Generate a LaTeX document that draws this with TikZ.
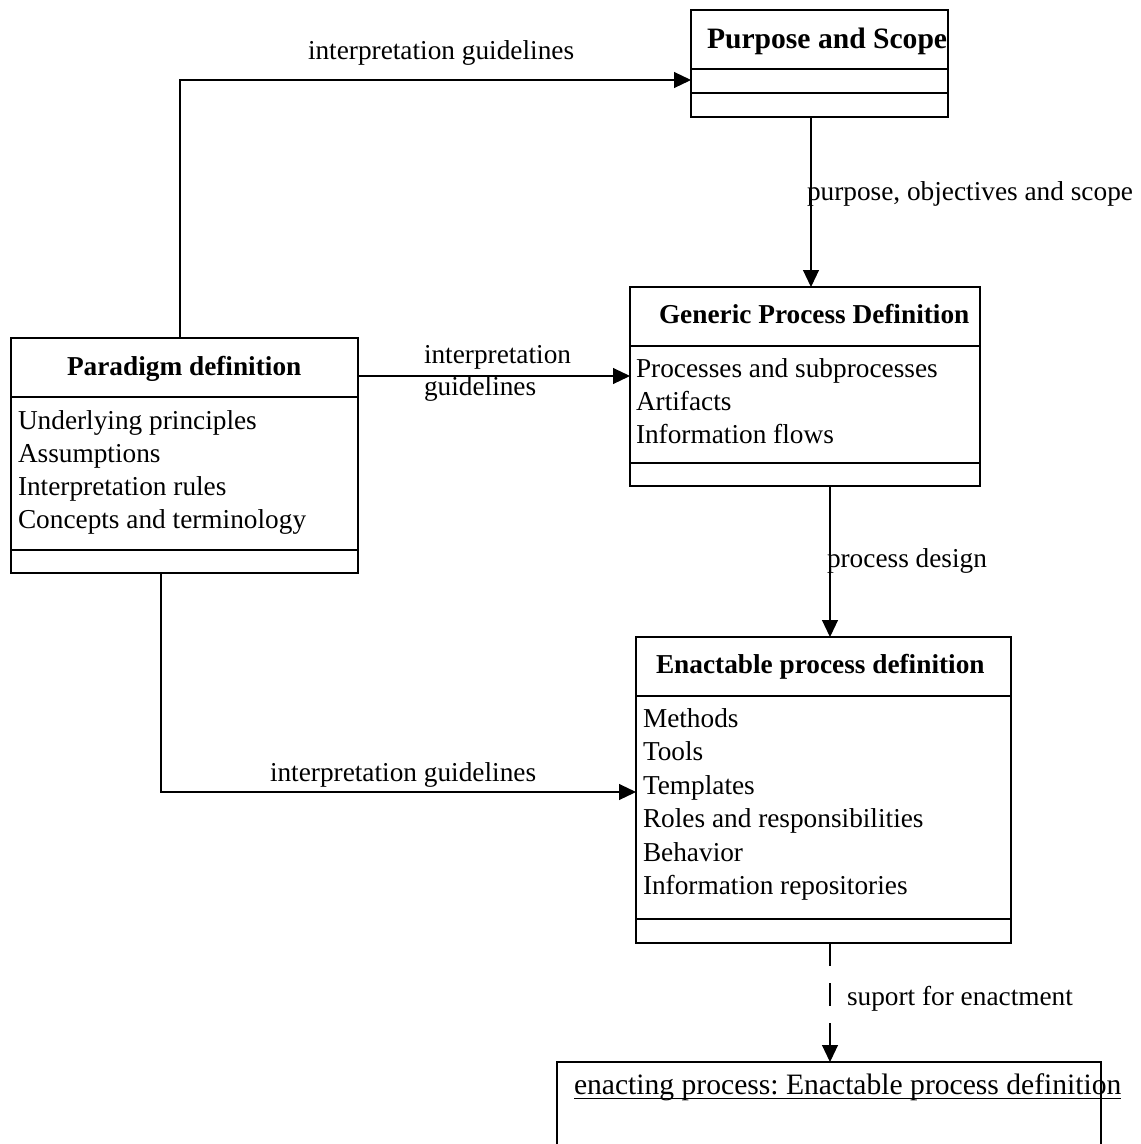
\documentclass[tikz,border=0pt]{standalone}
\usepackage{fontspec}
\setmainfont{Liberation Serif}
\usetikzlibrary{arrows.meta}
\frenchspacing

\tikzset{
  box/.style={draw, line width=1.2pt, inner sep=0pt, outer sep=0pt, anchor=north west},
  openbox/.style={inner sep=0pt, outer sep=0pt, anchor=north west},
  divider/.style={line width=1.2pt},
  txt/.style={font=\fontsize{27.3}{33}\selectfont, inner sep=0pt, outer sep=0pt, anchor=base west},
  bigtxt/.style={txt, font=\fontsize{29.6}{36}\selectfont},
  ttl/.style={txt, font=\fontsize{27.3}{33}\selectfont\bfseries},
  bigttl/.style={txt, font=\fontsize{29.6}{36}\selectfont\bfseries},
  conn/.style={line width=1.1pt, -{Triangle[length=17pt,width=16pt]}},
  dconn/.style={conn, dash pattern=on 23pt off 17pt},
}

\begin{document}
\begin{tikzpicture}[x=1pt, y=-1pt]
\useasboundingbox (0,0) rectangle (1141,1144);

% ---- class boxes ----
\node[box, minimum width=257pt, minimum height=107pt] (pur) at (691,10) {};
\draw[divider] ([yshift=-59pt]pur.north west) -- ([yshift=-59pt]pur.north east);
\draw[divider] ([yshift=-83pt]pur.north west) -- ([yshift=-83pt]pur.north east);
\node[bigttl] (purT) at (707,48) {Purpose and Scope};

\node[box, minimum width=350pt, minimum height=199pt] (gen) at (630,287) {};
\draw[divider] ([yshift=-59pt]gen.north west) -- ([yshift=-59pt]gen.north east);
\draw[divider] ([yshift=-176pt]gen.north west) -- ([yshift=-176pt]gen.north east);
\node[ttl] (genT) at (659,323) {Generic Process Definition};
\foreach \t [count=\i] in {Processes and subprocesses, Artifacts, Information flows}
  \node[txt] (genA\i) at (636,{377+33.2*(\i-1)}) {\t};

\node[box, minimum width=347pt, minimum height=235pt] (para) at (11,338) {};
\draw[divider] ([yshift=-59pt]para.north west) -- ([yshift=-59pt]para.north east);
\draw[divider] ([yshift=-212pt]para.north west) -- ([yshift=-212pt]para.north east);
\node[ttl] (paraT) at (67,375) {Paradigm definition};
\foreach \t [count=\i] in {Underlying principles, Assumptions, Interpretation rules, Concepts and terminology}
  \node[txt] (paraA\i) at (18,{429+33.2*(\i-1)}) {\t};

\node[box, minimum width=375pt, minimum height=306pt] (enact) at (636,637) {};
\draw[divider] ([yshift=-59pt]enact.north west) -- ([yshift=-59pt]enact.north east);
\draw[divider] ([yshift=-282pt]enact.north west) -- ([yshift=-282pt]enact.north east);
\node[ttl] (enactT) at (656,673) {Enactable process definition};
\foreach \t [count=\i] in {Methods, Tools, Templates, Roles and responsibilities, Behavior, Information repositories}
  \node[txt] (enactA\i) at (643,{727+33.5*(\i-1)}) {\t};

% ---- object box (runs past the lower edge) ----
\node[openbox, minimum width=544pt, minimum height=90pt] (enc) at (557,1062) {};
\draw[divider] (enc.south west) -- (enc.north west) -- (enc.north east) -- (enc.south east);
\node[bigtxt] (encT) at (574,1094) {enacting process: Enactable process definition};
\draw[line width=1pt] ([yshift=-4pt]encT.base west) -- ([yshift=-4pt]encT.base east);

% ---- connectors ----
\draw[conn] ([xshift=169pt]para.north west) |- ([yshift=-70pt]pur.north west);
\node[txt] (l1) at (308,59) {interpretation guidelines};

\draw[conn] ([yshift=-38pt]para.north east) -- ([yshift=-89pt]gen.north west);
\node[txt] (l2a) at (424,363) {interpretation};
\node[txt] (l2b) at (424,395) {guidelines};

\draw[conn] ([xshift=150pt]para.south west) |- ([yshift=-155pt]enact.north west);
\node[txt] (l3) at (270,781) {interpretation guidelines};

\draw[conn] ([xshift=120pt]pur.south west) -- ([xshift=181pt]gen.north west);
\node[txt] (l4) at (807,200) {purpose, objectives and scope};

\draw[conn] ([xshift=200pt]gen.south west) -- ([xshift=194pt]enact.north west);
\node[txt] (l5) at (827,567) {process design};

\draw[dconn] ([xshift=194pt]enact.south west) -- ([xshift=273pt]enc.north west);
\node[txt] (l6) at (847,1005) {suport for enactment};
\end{tikzpicture}
\end{document}
